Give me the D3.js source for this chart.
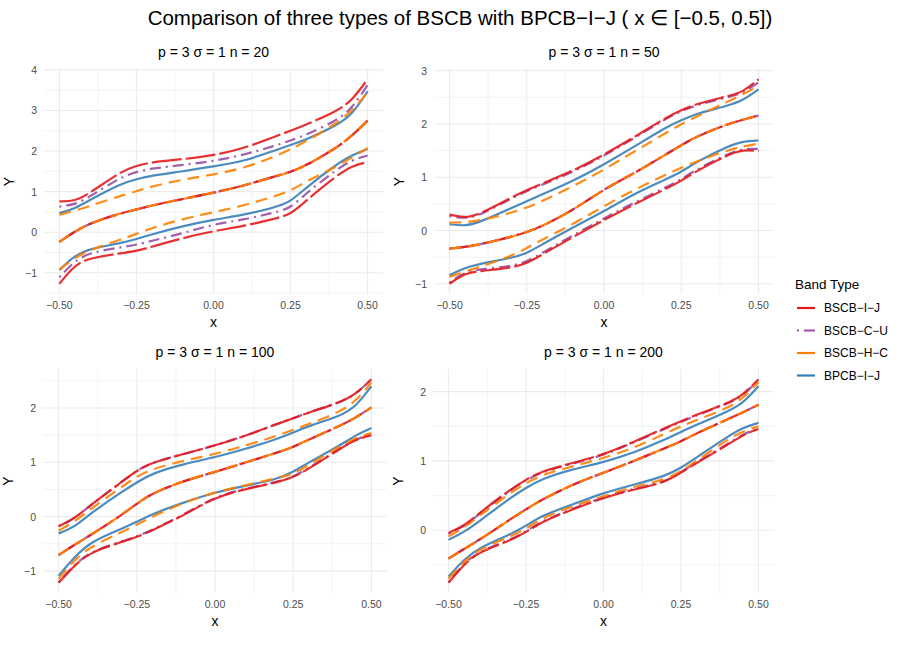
<!DOCTYPE html>
<html lang="en">
<head>
<meta charset="UTF-8">
<title>BSCB vs BPCB bands</title>
<style>
  body { margin: 0; background: #fff; }
  text { font-family: "Liberation Sans", Arial, sans-serif; }
</style>
</head>
<body>
<svg id="chart" width="899" height="667"></svg>
<script src="https://d3js.org/d3.v7.min.js"></script>
<script>
/* global d3 */

const xs = [-0.5, -0.45, -0.4, -0.3, -0.25, -0.2, -0.1, 0, 0.1, 0.2, 0.25, 0.3, 0.4, 0.45, 0.5];

const bandTypes = ["BSCB\u2212I\u2212J", "BSCB\u2212C\u2212U", "BSCB\u2212H\u2212C", "BPCB\u2212I\u2212J"];
const panelTitles = ["p = 3 \u03c3 = 1 n = 20", "p = 3 \u03c3 = 1 n = 50", "p = 3 \u03c3 = 1 n = 100", "p = 3 \u03c3 = 1 n = 200"];
const xTicks = [-0.5, -0.25, 0, 0.25, 0.5];
const yTicks = [[-1, 0, 1, 2, 3, 4], [-1, 0, 1, 2, 3], [-1, 0, 1, 2], [0, 1, 2]];

// n = 20
const n20Fit   = [-0.24, 0.02, 0.23, 0.47, 0.56, 0.66, 0.82, 0.97, 1.15, 1.38, 1.48, 1.64, 2.08, 2.38, 2.75];
const n20IJLo  = [-1.27, -0.80, -0.63, -0.52, -0.46, -0.36, -0.14, 0.03, 0.15, 0.34, 0.43, 0.78, 1.40, 1.64, 1.73];
const n20IJHi  = [0.76, 0.76, 0.97, 1.50, 1.64, 1.73, 1.80, 1.89, 2.07, 2.36, 2.50, 2.65, 2.98, 3.25, 3.77];
const n20CULo  = [-1.11, -0.70, -0.50, -0.37, -0.31, -0.21, -0.03, 0.20, 0.31, 0.49, 0.59, 0.96, 1.55, 1.78, 1.89];
const n20CUHi  = [0.63, 0.68, 0.88, 1.36, 1.49, 1.57, 1.66, 1.75, 1.91, 2.13, 2.26, 2.40, 2.75, 3.05, 3.63];
const n20HCLo  = [-0.92, -0.63, -0.43, -0.18, -0.04, 0.10, 0.33, 0.49, 0.66, 0.89, 1.02, 1.25, 1.62, 1.85, 2.07];
const n20HCHi  = [0.43, 0.53, 0.65, 0.90, 1.01, 1.13, 1.30, 1.42, 1.58, 1.87, 2.04, 2.24, 2.68, 3.00, 3.44];
const n20PLo   = [-0.93, -0.57, -0.40, -0.27, -0.17, -0.05, 0.15, 0.31, 0.43, 0.61, 0.75, 1.10, 1.68, 1.90, 2.05];
const n20PHi   = [0.47, 0.58, 0.80, 1.20, 1.31, 1.40, 1.50, 1.62, 1.75, 2.02, 2.15, 2.28, 2.63, 2.90, 3.47];

// n = 50
const n50Fit   = [-0.34, -0.31, -0.26, -0.12, -0.03, 0.08, 0.38, 0.78, 1.08, 1.43, 1.60, 1.77, 2.00, 2.08, 2.16];
const n50IJLo  = [-1.00, -0.80, -0.76, -0.70, -0.62, -0.45, -0.12, 0.20, 0.50, 0.78, 0.93, 1.12, 1.42, 1.52, 1.49];
const n50IJHi  = [0.30, 0.23, 0.31, 0.62, 0.76, 0.88, 1.12, 1.42, 1.76, 2.12, 2.26, 2.38, 2.52, 2.60, 2.84];
const n50CULo  = [-0.98, -0.77, -0.73, -0.67, -0.59, -0.42, -0.09, 0.23, 0.53, 0.81, 0.96, 1.15, 1.44, 1.54, 1.53];
const n50CUHi  = [0.27, 0.22, 0.29, 0.60, 0.74, 0.86, 1.10, 1.40, 1.74, 2.10, 2.24, 2.36, 2.50, 2.58, 2.78];
const n50HCLo  = [-0.87, -0.77, -0.68, -0.48, -0.33, -0.17, 0.12, 0.46, 0.77, 1.05, 1.18, 1.30, 1.51, 1.58, 1.63];
const n50HCHi  = [0.15, 0.15, 0.19, 0.33, 0.43, 0.55, 0.83, 1.14, 1.49, 1.83, 2.00, 2.14, 2.42, 2.56, 2.71];
const n50PLo   = [-0.84, -0.70, -0.62, -0.52, -0.43, -0.26, 0.06, 0.36, 0.70, 0.96, 1.10, 1.29, 1.58, 1.68, 1.69];
const n50PHi   = [0.12, 0.08, 0.16, 0.42, 0.55, 0.68, 0.93, 1.24, 1.58, 1.94, 2.07, 2.20, 2.34, 2.44, 2.65];

// n = 100
const n100Fit  = [-0.71, -0.52, -0.35, 0.02, 0.24, 0.43, 0.66, 0.82, 1.00, 1.18, 1.28, 1.42, 1.67, 1.82, 2.01];
const n100IJLo = [-1.22, -0.90, -0.66, -0.47, -0.38, -0.25, 0.02, 0.36, 0.51, 0.63, 0.72, 0.88, 1.25, 1.42, 1.50];
const n100IJHi = [-0.18, -0.04, 0.20, 0.63, 0.85, 1.00, 1.15, 1.31, 1.49, 1.71, 1.81, 1.92, 2.10, 2.25, 2.53];
const n100CULo = [-1.21, -0.89, -0.65, -0.46, -0.37, -0.24, 0.03, 0.37, 0.52, 0.64, 0.73, 0.89, 1.26, 1.43, 1.51];
const n100CUHi = [-0.18, -0.04, 0.20, 0.63, 0.85, 1.00, 1.15, 1.31, 1.49, 1.71, 1.81, 1.92, 2.10, 2.25, 2.53];
const n100HCLo = [-1.15, -0.80, -0.56, -0.29, -0.15, 0.00, 0.26, 0.45, 0.58, 0.71, 0.78, 0.95, 1.30, 1.45, 1.54];
const n100HCHi = [-0.26, -0.10, 0.13, 0.54, 0.74, 0.88, 1.03, 1.15, 1.31, 1.49, 1.60, 1.70, 1.93, 2.12, 2.47];
const n100PLo  = [-1.09, -0.75, -0.47, -0.23, -0.10, 0.05, 0.26, 0.45, 0.57, 0.69, 0.82, 1.00, 1.31, 1.50, 1.63];
const n100PHi  = [-0.31, -0.20, 0.05, 0.45, 0.63, 0.80, 0.97, 1.09, 1.25, 1.43, 1.55, 1.67, 1.85, 2.02, 2.40];

// n = 200
const n200Fit  = [-0.41, -0.27, -0.14, 0.16, 0.30, 0.44, 0.66, 0.83, 1.00, 1.19, 1.28, 1.40, 1.60, 1.70, 1.81];
const n200IJLo = [-0.76, -0.49, -0.31, -0.15, -0.03, 0.12, 0.30, 0.47, 0.59, 0.69, 0.83, 0.97, 1.23, 1.38, 1.46];
const n200IJHi = [-0.04, 0.06, 0.25, 0.59, 0.73, 0.85, 0.97, 1.09, 1.28, 1.48, 1.57, 1.67, 1.83, 1.95, 2.18];
const n200CULo = [-0.75, -0.48, -0.30, -0.14, -0.02, 0.13, 0.31, 0.48, 0.60, 0.70, 0.84, 0.98, 1.24, 1.39, 1.47];
const n200CUHi = [-0.05, 0.05, 0.24, 0.58, 0.72, 0.84, 0.96, 1.08, 1.27, 1.47, 1.56, 1.66, 1.82, 1.94, 2.17];
const n200HCLo = [-0.70, -0.45, -0.27, -0.09, 0.02, 0.17, 0.35, 0.49, 0.63, 0.73, 0.85, 1.00, 1.31, 1.43, 1.50];
const n200HCHi = [-0.09, 0.03, 0.21, 0.54, 0.68, 0.80, 0.92, 1.04, 1.19, 1.40, 1.50, 1.59, 1.76, 1.90, 2.14];
const n200PLo  = [-0.67, -0.42, -0.25, -0.06, 0.06, 0.21, 0.37, 0.54, 0.66, 0.78, 0.90, 1.05, 1.35, 1.48, 1.55];
const n200PHi  = [-0.14, -0.03, 0.13, 0.47, 0.61, 0.74, 0.88, 0.98, 1.12, 1.31, 1.42, 1.52, 1.71, 1.83, 2.08];

const colors = ["#E41A1C", "#984EA3", "#FF7F00", "#377EB8"];
const dashes = ["30,4", "2,5,11,5", "12,7", null];

const panels = [
  {title: panelTitles[0], yt: yTicks[0], box: [44, 383, 69, 294],
   fit: n20Fit, lo: [n20IJLo, n20CULo, n20HCLo, n20PLo], hi: [n20IJHi, n20CUHi, n20HCHi, n20PHi]},
  {title: panelTitles[1], yt: yTicks[1], box: [434, 774, 69, 294],
   fit: n50Fit, lo: [n50IJLo, n50CULo, n50HCLo, n50PLo], hi: [n50IJHi, n50CUHi, n50HCHi, n50PHi]},
  {title: panelTitles[2], yt: yTicks[2], box: [43, 387, 369, 593],
   fit: n100Fit, lo: [n100IJLo, n100CULo, n100HCLo, n100PLo], hi: [n100IJHi, n100CUHi, n100HCHi, n100PHi]},
  {title: panelTitles[3], yt: yTicks[3], box: [433, 774, 369, 593],
   fit: n200Fit, lo: [n200IJLo, n200CULo, n200HCLo, n200PLo], hi: [n200IJHi, n200CUHi, n200HCHi, n200PHi]}
];

const svg = d3.select("#chart");
const fmtX = d => d3.format(".2f")(d).replace("-", "\u2212");
const fmtY = d => String(d).replace("-", "\u2212");

svg.append("text")
  .attr("x", 460).attr("y", 25)
  .attr("text-anchor", "middle")
  .attr("font-size", 20.5).attr("fill", "#000")
  .text("Comparison of three types of BSCB with BPCB\u2212I\u2212J ( x \u2208 [\u22120.5, 0.5])");

panels.forEach(function (p) {
  const [x0, x1, y0, y1] = p.box;
  const all = p.lo.flat().concat(p.hi.flat(), p.fit);
  const ext = d3.extent(all), pad = (ext[1] - ext[0]) * 0.05;
  const x = d3.scaleLinear().domain([-0.55, 0.55]).range([x0, x1]);
  const y = d3.scaleLinear().domain([ext[0] - pad, ext[1] + pad]).range([y1, y0]);
  const g = svg.append("g");

  // minor grid
  const xMinor = xTicks.slice(1).map((t, i) => (t + xTicks[i]) / 2);
  const yMinor = [];
  for (let v = p.yt[0] - 0.5; v <= p.yt[p.yt.length - 1] + 0.5; v += 1) {
    if (v > y.domain()[0] && v < y.domain()[1]) yMinor.push(v);
  }
  g.selectAll(".xm").data(xMinor).join("line")
    .attr("x1", d => x(d)).attr("x2", d => x(d)).attr("y1", y0).attr("y2", y1)
    .attr("stroke", "#EBEBEB").attr("stroke-width", 0.6);
  g.selectAll(".ym").data(yMinor).join("line")
    .attr("y1", d => y(d)).attr("y2", d => y(d)).attr("x1", x0).attr("x2", x1)
    .attr("stroke", "#EBEBEB").attr("stroke-width", 0.6);
  // major grid
  g.selectAll(".xg").data(xTicks).join("line")
    .attr("x1", d => x(d)).attr("x2", d => x(d)).attr("y1", y0).attr("y2", y1)
    .attr("stroke", "#EBEBEB").attr("stroke-width", 1.1);
  g.selectAll(".yg").data(p.yt).join("line")
    .attr("y1", d => y(d)).attr("y2", d => y(d)).attr("x1", x0).attr("x2", x1)
    .attr("stroke", "#EBEBEB").attr("stroke-width", 1.1);

  // tick labels
  g.selectAll(".xl").data(xTicks).join("text")
    .attr("x", d => x(d)).attr("y", y1 + 15)
    .attr("text-anchor", "middle").attr("font-size", 10.5).attr("fill", "#4D4D4D")
    .text(fmtX);
  g.selectAll(".yl").data(p.yt).join("text")
    .attr("x", x0 - 7).attr("y", d => y(d) + 4)
    .attr("text-anchor", "end").attr("font-size", 10.5).attr("fill", "#4D4D4D")
    .text(fmtY);

  // axis titles
  g.append("text").attr("x", (x0 + x1) / 2).attr("y", y1 + 33)
    .attr("text-anchor", "middle").attr("font-size", 14).text("x");
  g.append("text")
    .attr("transform", `translate(${x0 - 30},${(y0 + y1) / 2}) rotate(-90)`)
    .attr("text-anchor", "middle").attr("font-size", 14).text("Y");
  g.append("text").attr("x", (x0 + x1) / 2).attr("y", y0 - 12)
    .attr("text-anchor", "middle").attr("font-size", 14).text(p.title);

  const line = d3.line()
    .x((d, i) => x(xs[i]))
    .y(d => y(d))
    .curve(d3.curveBasis);

  // fitted curve, shared by the BSCB bands
  [1, 0, 2].forEach(function (k) {
    g.append("path").attr("d", line(p.fit))
      .attr("fill", "none").attr("stroke", colors[k]).attr("stroke-width", 2.2)
      .attr("stroke-dasharray", dashes[k]).attr("opacity", 0.9);
  });

  // band limits: blue first, red last
  [3, 1, 2, 0].forEach(function (k) {
    [p.lo[k], p.hi[k]].forEach(function (arr) {
      g.append("path").attr("d", line(arr))
        .attr("fill", "none").attr("stroke", colors[k]).attr("stroke-width", 2.2)
        .attr("stroke-dasharray", dashes[k]).attr("opacity", 0.9);
    });
  });
});

// legend
const lg = svg.append("g").attr("transform", "translate(795,0)");
lg.append("text").attr("x", 0).attr("y", 289).attr("font-size", 13.5).text("Band Type");
bandTypes.forEach(function (name, i) {
  const yy = 308 + i * 22.5;
  lg.append("line").attr("x1", 2).attr("x2", 20).attr("y1", yy).attr("y2", yy)
    .attr("stroke", colors[i]).attr("stroke-width", 2.2)
    .attr("stroke-dasharray", i === 2 ? null : dashes[i]);
  lg.append("text").attr("x", 29).attr("y", yy + 4).attr("font-size", 12).text(name);
});
</script>
</body>
</html>
